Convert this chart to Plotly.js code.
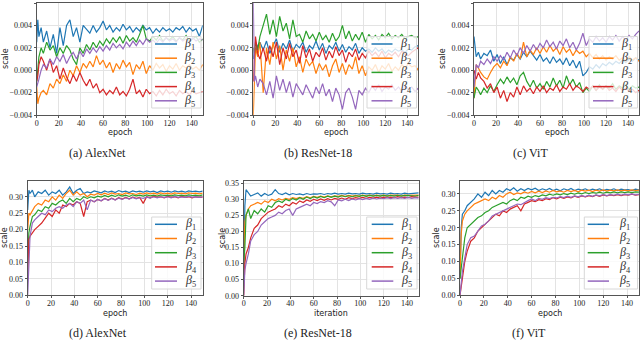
<!DOCTYPE html>
<html><head><meta charset="utf-8">
<script src="https://cdn.plot.ly/plotly-3.0.1.min.js"></script>
<style>html,body{margin:0;padding:0;background:#fff}#c{width:640px;height:340px}</style>
</head><body><div id="c"></div>
<script>
const epochs=[0,1,2,4,6,9,12,15,18,21,24,27,30,33,36,39,42,45,48,51,54,57,60,63,66,69,72,75,78,81,84,87,90,93,96,99,102,105,108,111,114,117,120,123,126,129,132,135,138,141,144,147,150];
const seriesNames=['β1','β2','β3','β4','β5'];
const colors=['#1f77b4','#ff7f0e','#2ca02c','#d62728','#9467bd'];
const captions=['(a) AlexNet','(b) ResNet-18','(c) ViT','(d) AlexNet','(e) ResNet-18','(f) ViT'];
const xTitles=['epoch','epoch','epoch','epoch','iteration','epoch'];

// (a) AlexNet - top
const a_b1=[.0025,.0045,.0030,.0038,.0025,.0035,.0020,.0032,.0015,.0038,.0022,.0040,.0045,.0030,.0038,.0025,.0040,.0036,.0033,.0040,.0034,.0038,.0044,.0036,.0040,.0034,.0038,.0035,.0041,.0036,.0039,.0034,.0038,.0035,.0040,.0036,.0038,.0033,.0037,.0034,.0038,.0035,.0037,.0034,.0038,.0036,.0039,.0034,.0038,.0035,.0037,.0030,.0040];
const a_b2=[-.0015,-.0030,-.0025,-.0020,-.0018,-.0022,-.0012,-.0016,-.0008,-.0012,-.0004,-.0010,.0000,-.0005,.0004,-.0002,.0006,.0002,.0008,.0003,.0013,.0005,.0009,.0002,.0007,-.0002,.0006,.0001,.0009,.0003,.0007,-.0004,.0005,.0001,.0008,-.0003,.0004,.0000,.0006,.0002,.0005,-.0001,.0004,.0001,.0006,.0000,.0004,.0002,.0005,.0001,.0003,.0000,.0005];
const a_b3=[-.0010,.0000,.0012,.0020,.0015,.0025,.0018,.0022,.0012,.0020,.0015,.0022,.0018,.0010,.0005,.0020,.0015,.0023,.0018,.0025,.0020,.0026,.0022,.0028,.0024,.0029,.0025,.0030,.0024,.0031,.0026,.0029,.0025,.0032,.0040,.0028,.0026,.0030,.0027,.0031,.0026,.0029,.0027,.0030,.0026,.0029,.0027,.0031,.0026,.0028,.0030,.0025,.0028];
const a_b4=[-.0010,-.0005,.0005,.0012,.0008,.0000,.0010,-.0002,.0004,-.0008,.0002,-.0006,-.0012,-.0004,-.0010,-.0002,-.0009,-.0014,-.0008,-.0016,-.0012,-.0020,-.0017,-.0022,-.0018,-.0021,-.0015,-.0022,-.0019,-.0023,-.0017,-.0008,-.0021,-.0018,-.0024,-.0017,-.0021,-.0019,-.0023,-.0018,-.0022,-.0017,-.0021,-.0019,-.0023,-.0018,-.0021,-.0019,-.0022,-.0018,-.0021,-.0020,-.0019];
const a_b5=[-.0015,-.0012,-.0008,.0000,.0005,.0002,.0010,.0005,.0012,.0008,.0014,.0006,.0012,.0016,.0010,.0017,.0012,.0019,.0015,.0020,.0016,.0021,.0017,.0022,.0018,.0024,.0020,.0023,.0019,.0025,.0021,.0026,.0022,.0027,.0023,.0028,.0025,.0027,.0024,.0028,.0025,.0029,.0026,.0028,.0025,.0029,.0026,.0028,.0025,.0029,.0026,.0028,.0027];
// (b) ResNet-18 - top
const b_b1=[.0010,.0018,.0015,.0022,.0025,.0018,.0026,.0015,.0022,.0028,.0016,.0024,.0019,.0027,.0017,.0023,.0020,.0025,.0016,.0022,.0019,.0026,.0018,.0024,.0015,.0022,.0019,.0025,.0017,.0023,.0016,.0021,.0018,.0024,.0015,.0020,.0017,.0019,.0016,.0020,.0017,.0019,.0015,.0018,.0016,.0019,.0017,.0018,.0016,.0019,.0018,.0021,.0022];
const b_b2=[-.0040,.0005,.0020,.0012,.0025,-.0020,.0020,.0005,.0025,.0010,.0022,.0000,.0018,.0008,.0020,.0003,.0012,-.0002,.0010,.0004,.0008,-.0003,.0006,.0000,.0005,-.0006,.0004,.0010,-.0002,.0006,-.0004,.0005,.0001,.0012,-.0003,.0004,-.0005,.0003,.0000,.0005,-.0002,.0004,.0001,.0006,-.0001,.0003,.0000,.0005,.0002,.0006,.0003,.0004,.0000];
const b_b3=[.0020,.0015,.0025,.0018,.0030,.0040,.0050,.0032,.0045,.0030,.0048,.0035,.0042,.0028,.0045,.0030,.0032,.0025,.0035,.0028,.0032,.0026,.0034,.0027,.0031,.0025,.0033,.0026,.0030,.0040,.0028,.0035,.0026,.0032,.0027,.0034,.0025,.0032,.0028,.0031,.0027,.0032,.0029,.0033,.0028,.0031,.0029,.0032,.0028,.0030,.0031,.0029,.0030];
const b_b4=[-.0010,.0020,.0030,.0015,.0010,.0020,.0008,.0022,.0012,.0025,.0005,.0020,.0010,.0024,.0012,.0018,.0006,.0022,.0011,.0019,.0008,.0016,.0012,.0020,.0009,.0017,.0011,.0021,.0013,.0018,.0007,.0016,.0012,.0019,.0009,.0015,.0011,.0017,.0013,.0016,.0012,.0017,.0011,.0015,.0013,.0016,.0012,.0017,.0014,.0013,.0016,.0018,.0020];
const b_b5=[.0060,-.0010,-.0005,-.0015,-.0008,-.0012,-.0022,-.0010,-.0025,-.0005,-.0018,-.0008,-.0020,-.0010,-.0024,-.0012,-.0017,-.0022,-.0013,-.0019,-.0025,-.0015,-.0021,-.0012,-.0023,-.0017,-.0028,-.0016,-.0022,-.0035,-.0020,-.0016,-.0024,-.0035,-.0018,-.0022,-.0016,-.0020,-.0014,-.0018,-.0013,-.0019,-.0015,-.0017,-.0013,-.0018,-.0015,-.0019,-.0014,-.0017,-.0015,-.0019,-.0016];
// (c) ViT - top
const c_b1=[.0030,.0018,.0012,.0016,.0010,.0015,.0013,.0018,.0008,.0014,.0006,.0012,.0005,.0011,.0009,.0014,.0010,.0016,.0012,.0017,.0013,.0009,.0014,.0008,.0011,.0006,.0012,.0007,.0010,.0005,.0011,.0004,.0009,.0002,.0008,-.0005,-.0002,.0003,.0001,.0005,.0002,.0006,.0004,.0007,.0005,.0008,.0006,.0009,.0007,.0010,.0008,.0011,.0009];
const c_b2=[-.0025,-.0005,.0005,.0002,-.0002,-.0006,-.0008,-.0002,.0003,.0006,.0002,.0008,.0004,.0012,.0008,.0015,.0010,.0025,.0012,.0018,.0014,.0020,.0015,.0021,.0016,.0022,.0017,.0020,.0014,.0021,.0016,.0019,.0013,.0018,.0015,.0017,.0012,.0015,.0011,.0014,.0010,.0013,.0009,.0012,.0010,.0013,.0009,.0011,.0008,.0012,.0009,.0011,.0008];
const c_b3=[-.0025,-.0020,-.0015,-.0018,-.0022,-.0016,-.0020,-.0014,-.0019,-.0013,-.0008,-.0012,-.0006,-.0011,-.0007,-.0013,-.0005,-.0002,-.0010,-.0015,-.0009,-.0016,-.0012,-.0017,-.0010,-.0015,-.0007,-.0014,-.0009,-.0016,-.0005,-.0013,-.0008,-.0015,-.0011,-.0020,-.0016,-.0019,-.0014,-.0018,-.0013,-.0017,-.0014,-.0016,-.0012,-.0017,-.0014,-.0016,-.0013,-.0017,-.0014,-.0016,-.0015];
const c_b4=[.0000,-.0003,-.0008,-.0002,-.0007,-.0010,-.0016,-.0012,-.0020,-.0015,-.0025,-.0018,-.0028,-.0020,-.0024,-.0015,-.0022,-.0014,-.0019,-.0016,-.0021,-.0015,-.0019,-.0014,-.0020,-.0016,-.0018,-.0013,-.0019,-.0015,-.0017,-.0012,-.0018,-.0014,-.0016,-.0019,-.0015,-.0017,-.0014,-.0018,-.0015,-.0017,-.0014,-.0018,-.0016,-.0019,-.0015,-.0018,-.0016,-.0019,-.0017,-.0020,-.0018];
const c_b5=[-.0015,.0000,.0005,.0002,.0008,.0005,.0010,.0006,.0012,.0008,.0013,.0009,.0016,.0011,.0018,.0013,.0020,.0015,.0022,.0017,.0023,.0018,.0024,.0020,.0027,.0021,.0025,.0019,.0026,.0022,.0028,.0020,.0025,.0018,.0024,.0033,.0022,.0028,.0025,.0030,.0026,.0029,.0025,.0030,.0027,.0031,.0026,.0030,.0027,.0031,.0028,.0032,.0035];
// (d) AlexNet - bottom
const d_b1=[.26,.32,.31,.32,.30,.315,.31,.32,.305,.315,.31,.32,.305,.315,.33,.31,.32,.325,.31,.315,.312,.318,.315,.312,.318,.314,.317,.313,.319,.315,.317,.313,.318,.315,.317,.314,.318,.315,.317,.313,.318,.315,.317,.314,.318,.315,.317,.314,.318,.316,.317,.315,.317];
const d_b2=[.20,.25,.245,.26,.27,.28,.275,.29,.285,.30,.29,.305,.295,.31,.32,.305,.315,.305,.31,.30,.308,.305,.31,.306,.311,.307,.312,.308,.31,.307,.312,.309,.31,.307,.311,.308,.312,.309,.311,.308,.312,.309,.311,.308,.312,.31,.311,.309,.312,.31,.311,.309,.311];
const d_b3=[.10,.19,.21,.24,.245,.26,.255,.27,.265,.28,.275,.285,.29,.28,.295,.285,.295,.29,.30,.295,.30,.297,.302,.299,.304,.30,.305,.301,.306,.302,.305,.301,.306,.303,.305,.302,.306,.303,.305,.302,.306,.304,.305,.303,.306,.304,.305,.303,.306,.304,.305,.303,.306];
const d_b4=[.05,.17,.18,.19,.20,.21,.22,.235,.25,.24,.26,.25,.275,.27,.28,.275,.285,.28,.24,.285,.29,.285,.292,.288,.295,.29,.296,.291,.297,.293,.298,.294,.299,.295,.298,.28,.30,.297,.301,.298,.30,.297,.301,.298,.30,.297,.301,.298,.30,.297,.30,.298,.299];
const d_b5=[.00,.12,.18,.22,.23,.24,.25,.245,.26,.255,.265,.27,.265,.275,.28,.27,.285,.28,.29,.26,.29,.285,.292,.288,.294,.289,.295,.29,.296,.292,.297,.293,.298,.294,.297,.295,.299,.296,.30,.297,.30,.298,.30,.297,.301,.298,.30,.298,.301,.299,.30,.298,.30];
// (e) ResNet-18 - bottom
const e_b1=[.05,.28,.33,.32,.31,.315,.32,.31,.318,.312,.316,.33,.318,.315,.32,.314,.318,.315,.317,.314,.318,.315,.317,.316,.318,.315,.318,.316,.319,.316,.318,.316,.319,.317,.318,.316,.319,.317,.318,.316,.319,.317,.318,.316,.319,.317,.318,.316,.319,.317,.318,.319,.32];
const e_b2=[.10,.23,.25,.27,.28,.285,.29,.285,.295,.29,.30,.295,.302,.298,.303,.30,.305,.302,.306,.303,.308,.305,.309,.306,.31,.307,.311,.308,.311,.309,.312,.309,.312,.31,.312,.31,.313,.311,.313,.311,.313,.311,.313,.311,.313,.312,.313,.311,.313,.312,.313,.312,.313];
const e_b3=[.10,.15,.25,.27,.24,.265,.255,.27,.26,.28,.275,.29,.295,.29,.30,.295,.303,.298,.305,.30,.307,.302,.308,.304,.309,.305,.31,.306,.31,.307,.311,.308,.311,.308,.311,.309,.312,.309,.312,.31,.312,.31,.312,.31,.312,.31,.312,.31,.312,.311,.312,.31,.312];
const e_b4=[.00,.10,.13,.15,.18,.21,.22,.24,.25,.26,.265,.27,.28,.275,.285,.28,.29,.285,.295,.29,.298,.294,.30,.296,.301,.297,.302,.298,.303,.30,.304,.30,.305,.302,.305,.303,.306,.303,.306,.304,.307,.304,.307,.305,.307,.305,.308,.305,.307,.305,.308,.306,.307];
const e_b5=[.00,.08,.10,.13,.17,.19,.20,.22,.23,.24,.245,.25,.26,.255,.265,.27,.25,.27,.275,.28,.285,.28,.29,.287,.293,.29,.296,.292,.28,.298,.295,.30,.296,.301,.298,.302,.299,.303,.30,.304,.301,.304,.302,.305,.302,.305,.303,.305,.303,.306,.303,.305,.304];
// (f) ViT - bottom
const f_b1=[.05,.20,.24,.25,.265,.275,.285,.30,.29,.305,.295,.31,.30,.31,.305,.315,.31,.318,.308,.315,.31,.316,.312,.317,.31,.315,.311,.316,.31,.314,.309,.315,.311,.316,.31,.314,.311,.315,.31,.314,.311,.315,.31,.313,.311,.315,.31,.314,.312,.313,.31,.314,.312];
const f_b2=[.05,.18,.22,.24,.25,.26,.27,.275,.28,.285,.28,.29,.285,.295,.29,.30,.305,.298,.303,.30,.306,.302,.307,.303,.308,.304,.309,.305,.31,.306,.309,.305,.31,.307,.31,.306,.311,.308,.311,.307,.311,.308,.312,.308,.311,.309,.312,.309,.311,.309,.312,.31,.311];
const f_b3=[.05,.08,.12,.17,.20,.21,.22,.23,.235,.245,.25,.26,.265,.27,.275,.27,.28,.285,.28,.29,.287,.293,.29,.295,.292,.297,.294,.299,.296,.30,.297,.301,.298,.302,.299,.303,.30,.304,.301,.304,.302,.305,.302,.305,.303,.306,.303,.306,.304,.306,.304,.306,.305];
const f_b4=[.00,.03,.05,.10,.13,.16,.17,.19,.20,.21,.22,.23,.24,.235,.25,.245,.255,.26,.265,.25,.27,.275,.28,.277,.283,.28,.286,.283,.289,.285,.29,.287,.291,.288,.293,.29,.294,.291,.295,.292,.296,.293,.297,.294,.297,.295,.298,.295,.298,.296,.299,.296,.298];
const f_b5=[.00,.04,.07,.11,.15,.17,.175,.19,.205,.21,.22,.235,.24,.245,.25,.255,.26,.265,.27,.268,.275,.28,.285,.28,.287,.284,.289,.286,.29,.288,.292,.289,.293,.29,.294,.291,.295,.292,.296,.293,.297,.294,.298,.295,.298,.296,.299,.296,.299,.297,.30,.297,.299];

const panels=[[a_b1,a_b2,a_b3,a_b4,a_b5],[b_b1,b_b2,b_b3,b_b4,b_b5],[c_b1,c_b2,c_b3,c_b4,c_b5],
              [d_b1,d_b2,d_b3,d_b4,d_b5],[e_b1,e_b2,e_b3,e_b4,e_b5],[f_b1,f_b2,f_b3,f_b4,f_b5]];

// layout geometry (pixels)
const W=640,H=340;
const px=[[36.7,202.7],[253.3,418.3],[474,639],[27.7,202.7],[243.7,418.7],[460,639]];
const py=[[3,115],[3,115],[3,115],[180.7,295.3],[181,295.7],[180.7,295.3]];
const yRanges=[[-0.004,0.006],[-0.004,0.006],[-0.004,0.006],[0,0.349],[0,0.357],[0,0.339]];
const yTicks=[[-0.004,-0.002,0,0.002,0.004,0.006],[-0.004,-0.002,0,0.002,0.004,0.006],[-0.004,-0.002,0,0.002,0.004,0.006],
  [0,0.05,0.1,0.15,0.2,0.25,0.3],[0,0.05,0.1,0.15,0.2,0.25,0.3,0.35],[0,0.05,0.1,0.15,0.2,0.25,0.3]];
// manual legend boxes: [left, top, right, bottom], line x0,x1, text x, first row y
const legBox=[[151.7,36.5,201,108],[367,36.5,416.5,108],[589,36.5,637.5,108],[151.7,217,201,289],[366.7,217,417,289],[584.3,217,637.5,289]];
const legLine=[[155,177],[371.5,392.5],[593,613.5],[155,177],[371.7,393.3],[587.7,609]];
const legText=[182,398,619,183,399,616.5];
const legRow0=[44,44,44,224.3,224.3,224.3];
const legStep=14.2;
const capX=[97.5,317.5,530,97.5,317.5,529];
const capY=[153,153,153,333,333,333];
const xtY=[132.5,132.5,132.5,313,313,313];
const ytX=[5,222,442,5,222,437];

const serif='"Liberation Serif", "DejaVu Serif", serif';
const tickFont={family:serif,size:8,color:'#222'};
const traces=[];
const layout={width:W,height:H,margin:{l:0,r:0,t:0,b:0},paper_bgcolor:'#fff',plot_bgcolor:'#fff',
  showlegend:false,annotations:[],shapes:[]};
const P=(x)=>x/W, Q=(y)=>1-y/H;
for(let k=0;k<6;k++){
  const n=k+1, xa='xaxis'+(k?n:''), ya='yaxis'+(k?n:'');
  layout[xa]={domain:[P(px[k][0]),P(px[k][1])],range:[0,150],anchor:'y'+(k?n:''),
    tickvals:[0,20,40,60,80,100,120,140],tickfont:tickFont,showgrid:true,gridcolor:'#e3e3e3',gridwidth:1,
    zeroline:false,showline:true,mirror:true,linecolor:'#555',linewidth:1,ticks:'outside',ticklen:2,tickcolor:'#555',
    ticklabelstandoff:-2};
  layout[ya]={domain:[Q(py[k][1]),Q(py[k][0])],range:yRanges[k],anchor:'x'+(k?n:''),
    tickvals:yTicks[k],tickformat:k<3?'.3f':'.2f',tickfont:tickFont,showgrid:true,gridcolor:'#e3e3e3',gridwidth:1,
    zeroline:false,showline:true,mirror:true,linecolor:'#555',linewidth:1,ticks:'outside',ticklen:2,tickcolor:'#555'};
  panels[k].forEach((vals,i)=>{
    traces.push({x:epochs,y:vals,type:'scatter',mode:'lines',name:seriesNames[i],
      line:{color:colors[i],width:1.2},xaxis:'x'+(k?n:''),yaxis:'y'+(k?n:'')});
  });
  // legend
  const b=legBox[k];
  layout.shapes.push({type:'rect',xref:'paper',yref:'paper',x0:P(b[0]),x1:P(b[2]),y0:Q(b[3]),y1:Q(b[1]),
    fillcolor:'rgba(255,255,255,0.8)',line:{color:'#d8d8d8',width:1},layer:'above'});
  for(let i=0;i<5;i++){
    const yy=legRow0[k]+legStep*i;
    layout.shapes.push({type:'line',xref:'paper',yref:'paper',x0:P(legLine[k][0]),x1:P(legLine[k][1]),y0:Q(yy),y1:Q(yy),
      line:{color:colors[i],width:1.5},layer:'above'});
    layout.annotations.push({text:'<i>β</i><sub>'+(i+1)+'</sub>',x:P(legText[k]),y:Q(yy),xref:'paper',yref:'paper',showarrow:false,
      xanchor:'left',yanchor:'middle',font:{family:serif,size:12,color:'#333'}});
  }
  layout.annotations.push({text:captions[k],x:P(capX[k]),y:Q(capY[k]),xref:'paper',yref:'paper',showarrow:false,
    xanchor:'center',yanchor:'middle',font:{family:serif,size:12,color:'#222'}});
  layout.annotations.push({text:xTitles[k],x:P((px[k][0]+px[k][1])/2),y:Q(xtY[k]),xref:'paper',yref:'paper',showarrow:false,
    xanchor:'center',yanchor:'middle',font:{family:'"DejaVu Sans", sans-serif',size:8,color:'#222'}});
  layout.annotations.push({text:'scale',x:P(ytX[k]),y:Q((py[k][0]+py[k][1])/2),xref:'paper',yref:'paper',showarrow:false,
    textangle:-90,xanchor:'center',yanchor:'middle',font:{family:'"DejaVu Sans", sans-serif',size:8,color:'#222'}});
}
Plotly.newPlot('c',traces,layout,{staticPlot:true,displayModeBar:false});
</script></body></html>
